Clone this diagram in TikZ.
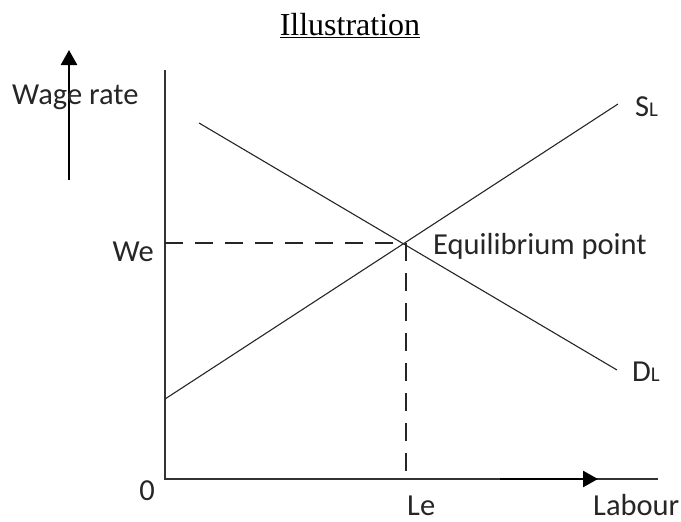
\documentclass[tikz,border=0pt]{standalone}
\usepackage{fontspec}
\setmainfont{Carlito}
\newfontfamily\titlefont{Liberation Serif}
\usetikzlibrary{arrows.meta}
\begin{document}
\begin{tikzpicture}[x=1pt,y=-1pt,
  lbl/.style={inner sep=0pt,font=\fontsize{30.5}{34}\selectfont,text=black!85},
  axisline/.style={line width=1.6pt,draw=black!80},
  curve/.style={line width=1.1pt,draw=black!85},
  guide/.style={line width=1.6pt,draw=black!85,dash pattern=on 18pt off 12pt},
  bigarrow/.style={line width=2.6pt,-{Triangle[length=15pt,width=16pt]}}]
\useasboundingbox (0,0) rectangle (681,522);
% coordinates
\coordinate (O) at (165,479);
\coordinate (Ytop) at (165,70);
\coordinate (Xend) at (658,479);
\coordinate (E) at (406,243);
\coordinate (We) at (165,243);
\coordinate (Le) at (406,479);
\coordinate (S0) at (165,399);
\coordinate (S1) at (618,104);
\coordinate (D0) at (199,123);
\coordinate (D1) at (617,370);
\coordinate (A0) at (69,180);
\coordinate (A1) at (69,50);
\coordinate (B0) at (500,479);
\coordinate (B1) at (598,479);
% axes
\draw[axisline] (Ytop) -- (O) -- (Xend);
% guides
\draw[guide] (We) -- (E);
\draw[guide] (E) -- (Le);
% curves
\draw[curve] (S0) -- (S1);
\draw[curve] (D0) -- (D1);
% arrows
\draw[bigarrow] (A0) -- (A1);
\draw[bigarrow] (B0) -- (B1);
% texts
\node[inner sep=0pt,anchor=base,font=\titlefont\fontsize{32}{36}\selectfont] (title) at (350,35) {\underline{Illustration}};
\node[lbl,anchor=base west] (wage) at (12,104) {Wage rate};
\node[lbl,anchor=base east] (welbl) at (154,261) {We};
\node[lbl,anchor=base west] (eqlbl) at (433,254) {Equilibrium point};
\node[lbl,anchor=base west] (sl) at (635,116) {S{\fontsize{21}{21}\selectfont L}};
\node[lbl,anchor=base west] (dl) at (632,381) {D{\fontsize{21}{21}\selectfont L}};
\node[lbl,anchor=base east] (zero) at (155,500) {0};
\node[lbl,anchor=base west] (lelbl) at (407,515) {Le};
\node[lbl,anchor=base west] (labour) at (593,515) {Labour};
\end{tikzpicture}
\end{document}
